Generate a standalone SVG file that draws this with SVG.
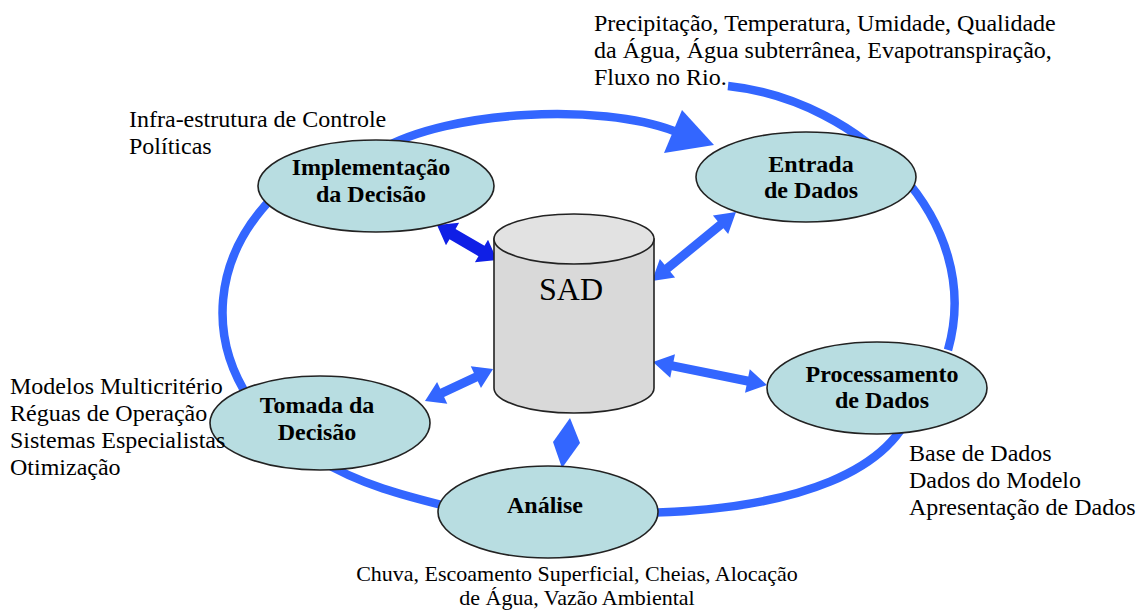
<svg xmlns="http://www.w3.org/2000/svg" width="1142" height="611" viewBox="0 0 1142 611">
<style>
.loop{fill:none;stroke:#3366FF;stroke-width:8.5;stroke-linecap:butt}
.node{fill:#B8DDE1;stroke:#222;stroke-width:1.6}
.lbl{font-family:"Liberation Serif","Times New Roman",serif;font-size:24px;font-weight:bold;fill:#000;text-anchor:middle}
.txt{font-family:"Liberation Serif","Times New Roman",serif;font-size:24px;fill:#000}
.bot{font-family:"Liberation Serif","Times New Roman",serif;font-size:22px;fill:#000;text-anchor:middle}
.arr{fill:#3366FF}
.arrd{fill:#0F1FE6}
</style>
<rect width="1142" height="611" fill="#fff"/>
<g id="connectors">
<path class="loop" d="M380 150 C450 110,600 103,674 131"/>
<polygon class="arr" points="682,110 664,153 714,145"/>
<path class="loop" d="M728 86 C860 100,985 220,948 350"/>
<path class="loop" d="M915 400 C895 470,800 510,640 513"/>
<path class="loop" d="M450 507 C410 497,360 485,320 460"/>
<path class="loop" d="M250 400 C210 340,210 260,275 195"/>
<polygon class="arrd" transform="translate(437 225) rotate(30.3)" points="0,0 18,-13 18,-6 51.5,-6 51.5,-13 69.5,0 51.5,13 51.5,6 18,6 18,13"/>
<polygon class="arr" transform="translate(652 281) rotate(-39.4)" points="0,0 20,-12 20,-4.5 88.7,-4.5 88.7,-12 108.7,0 88.7,12 88.7,4.5 20,4.5 20,12"/>
<polygon class="arr" transform="translate(653 362) rotate(11.4)" points="0,0 20,-12 20,-4.5 96.3,-4.5 96.3,-12 116.3,0 96.3,12 96.3,4.5 20,4.5 20,12"/>
<polygon class="arr" transform="translate(425 401) rotate(-25.2)" points="0,0 19,-12 19,-4.5 56.2,-4.5 56.2,-12 75.2,0 56.2,12 56.2,4.5 19,4.5 19,12"/>
<polygon class="arr" points="570,418 580,443 562,468 553,442"/>
</g>
<g id="sad">
<path d="M494 239 L494 388 A80 25 0 0 0 654 388 L654 239 Z" fill="#D9D9D9" stroke="#222" stroke-width="1.6"/>
<ellipse cx="574" cy="239" rx="80" ry="25" fill="#E2E2E2" stroke="#222" stroke-width="1.6"/>
<text x="571" y="300" class="txt" text-anchor="middle" style="font-size:32px">SAD</text>
</g>
<g id="implementacao">
<ellipse class="node" cx="376" cy="186" rx="118" ry="46"/>
<text class="lbl" x="371" y="175">Implementação</text>
<text class="lbl" x="371" y="202">da Decisão</text>
</g>
<g id="entrada">
<ellipse class="node" cx="806" cy="177" rx="110" ry="45"/>
<text class="lbl" x="811" y="172">Entrada</text>
<text class="lbl" x="811" y="198">de Dados</text>
</g>
<g id="processamento">
<ellipse class="node" cx="877" cy="388" rx="110" ry="46"/>
<text class="lbl" x="882" y="382">Processamento</text>
<text class="lbl" x="882" y="408">de Dados</text>
</g>
<g id="tomada">
<ellipse class="node" cx="320" cy="423" rx="110" ry="47"/>
<text class="lbl" x="317" y="413">Tomada da</text>
<text class="lbl" x="317" y="440">Decisão</text>
</g>
<g id="analise">
<ellipse class="node" cx="548" cy="512" rx="110" ry="46"/>
<text class="lbl" x="545" y="513">Análise</text>
</g>
<g id="notes">
<text class="txt" x="594" y="31">Precipitação, Temperatura, Umidade, Qualidade</text>
<text class="txt" x="594" y="58">da Água, Água subterrânea, Evapotranspiração,</text>
<text class="txt" x="594" y="85">Fluxo no Rio.</text>
<text class="txt" x="129" y="127">Infra-estrutura de Controle</text>
<text class="txt" x="129" y="154">Políticas</text>
<text class="txt" x="10" y="394">Modelos Multicritério</text>
<text class="txt" x="10" y="421">Réguas de Operação</text>
<text class="txt" x="10" y="448">Sistemas Especialistas</text>
<text class="txt" x="10" y="475">Otimização</text>
<text class="txt" x="909" y="461">Base de Dados</text>
<text class="txt" x="909" y="488">Dados do Modelo</text>
<text class="txt" x="909" y="515">Apresentação de Dados</text>
<text class="bot" x="577" y="581">Chuva, Escoamento Superficial, Cheias, Alocação</text>
<text class="bot" x="577" y="605">de Água, Vazão Ambiental</text>
</g>
</svg>
